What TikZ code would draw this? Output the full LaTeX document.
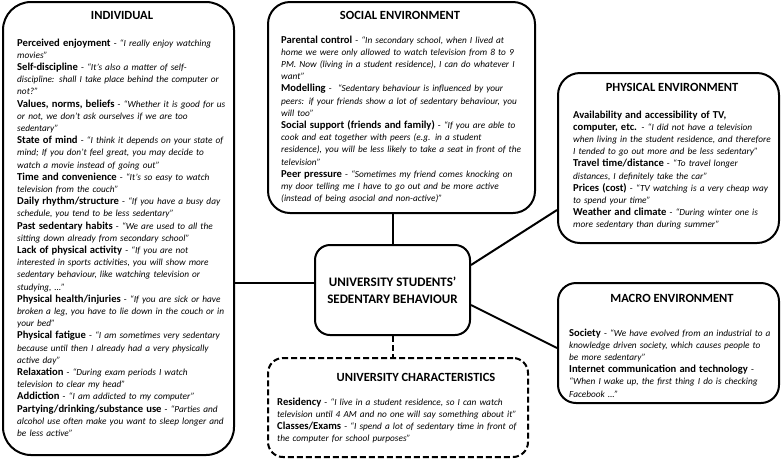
\documentclass[tikz,border=0pt]{standalone}
\usepackage{fontspec}
\setmainfont{Carlito}
\newcommand{\fac}[2]{{\fontsize{10.6}{12.2}\selectfont\bfseries #1} - \textit{#2}\par}
\begin{document}
\begin{tikzpicture}[x=1pt,y=-1pt,
    box/.style={draw, line width=2pt, rounded corners=#1},
    box/.default=20pt,
    title/.style={font=\fontsize{12.5}{14}\selectfont\bfseries},
    body/.style={anchor=base west, inner sep=0pt, align=left,
        font=\fontsize{9.3}{12.2}\selectfont},
    conn/.style={line width=2pt}]
    \useasboundingbox (0,0) rectangle (781,459);

    % boxes
    \node[box=28pt, minimum width=231pt, minimum height=453pt] (ind) at (118.5,228.5) {};
    \node[box=22pt, minimum width=267pt, minimum height=211pt] (soc) at (401.5,107.5) {};
    \node[box=22pt, minimum width=221pt, minimum height=170pt] (phy) at (668.5,158) {};
    \node[box=18pt, minimum width=221pt, minimum height=120pt] (mac) at (668.5,343) {};
    \node[box=15pt, minimum width=155pt, minimum height=90pt, align=center,
        font=\fontsize{13}{17}\selectfont\bfseries] (cen) at (392.5,290)
        {UNIVERSITY STUDENTS’\\SEDENTARY BEHAVIOUR};
    \node[box=15pt, dashed, dash pattern=on 6pt off 3pt, minimum width=260pt,
        minimum height=99pt] (uni) at (398,407.5) {};

    % titles
    \node[title] (indt) at (122,15) {INDIVIDUAL};
    \node[title] (soct) at (400,15) {SOCIAL ENVIRONMENT};
    \node[title] (phyt) at (672,87) {PHYSICAL ENVIRONMENT};
    \node[title] (mact) at (672,298) {MACRO ENVIRONMENT};
    \node[title] (unit) at (416,377) {UNIVERSITY CHARACTERISTICS};

    % texts
    \node[body, text width=300pt] (indb) at (17,46) {%
        \fac{Perceived enjoyment}{“I really enjoy watching\\ movies”}
        \fac{Self-discipline}{“It’s also a matter of self-\\ discipline: shall I take place behind the computer or\\ not?”}
        \fac{Values, norms, beliefs}{“Whether it is good for us\\ or not, we don’t ask ourselves if we are too\\ sedentary”}
        \fac{State of mind}{“I think it depends on your state of\\ mind; If you don’t feel great, you may decide to\\ watch a movie instead of going out”}
        \fac{Time and convenience}{“It’s so easy to watch\\ television from the couch”}
        \fac{Daily rhythm/structure}{“If you have a busy day\\ schedule, you tend to be less sedentary”}
        \fac{Past sedentary habits}{“We are used to all the\\ sitting down already from secondary school”}
        \fac{Lack of physical activity}{“If you are not\\ interested in sports activities, you will show more\\ sedentary behaviour, like watching television or\\ studying, …”}
        \fac{Physical health/injuries}{“If you are sick or have\\ broken a leg, you have to lie down in the couch or in\\ your bed”}
        \fac{Physical fatigue}{“I am sometimes very sedentary\\ because until then I already had a very physically\\ active day”}
        \fac{Relaxation}{“During exam periods I watch\\ television to clear my head”}
        \fac{Addiction}{“I am addicted to my computer”}
        \fac{Partying/drinking/substance use}{“Parties and\\ alcohol use often make you want to sleep longer and\\ be less active”}};
    \node[body, text width=300pt] (socb) at (281,43) {%
        \fac{Parental control}{“In secondary school, when I lived at\\ home we were only allowed to watch television from 8 to 9\\ PM. Now (living in a student residence), I can do whatever I\\ want”}
        \fac{Modelling}{ “Sedentary behaviour is influenced by your\\ peers: if your friends show a lot of sedentary behaviour, you\\ will too”}
        \fac{Social support (friends and family)}{“If you are able to\\ cook and eat together with peers (e.g. in a student\\ residence), you will be less likely to take a seat in front of the\\ television”}
        \fac{Peer pressure}{“Sometimes my friend comes knocking on\\ my door telling me I have to go out and be more active\\ (instead of being asocial and non-active)”}};
    \node[body, text width=300pt] (phyb) at (573,118) {%
        \fac{Availability and accessibility of TV,\\ computer, etc.}{“I did not have a television\\ when living in the student residence, and therefore\\ I tended to go out more and be less sedentary”}
        \fac{Travel time/distance}{“To travel longer\\ distances, I definitely take the car”}
        \fac{Prices (cost)}{“TV watching is a very cheap way\\ to spend your time”}
        \fac{Weather and climate}{“During winter one is\\ more sedentary than during summer”}};
    \node[body, text width=300pt] (macb) at (569,336) {%
        \fac{Society}{“We have evolved from an industrial to a\\ knowledge driven society, which causes people to\\ be more sedentary”}
        \fac{Internet communication and technology}{\\ “When I wake up, the first thing I do is checking\\ Facebook …”}};
    \node[body, text width=300pt] (unib) at (277,405) {%
        \fac{Residency}{“I live in a student residence, so I can watch\\ television until 4 AM and no one will say something about it”}
        \fac{Classes/Exams}{“I spend a lot of sedentary time in front of\\ the computer for school purposes”}};

    % connectors
    \draw[conn] ([yshift=7pt]cen.west) -- ([yshift=7pt]cen.west -| ind.east);
    \draw[conn] (cen.north) -- (cen.north |- soc.south);
    \draw[conn] ([yshift=25pt]cen.east) -- ([yshift=-52pt]phy.west);
    \draw[conn] ([yshift=-15pt]cen.east) -- ([yshift=-5pt]mac.west);
    \draw[conn, dashed, dash pattern=on 6pt off 3pt] (cen.south) -- (cen.south |- uni.north);
\end{tikzpicture}
\end{document}
